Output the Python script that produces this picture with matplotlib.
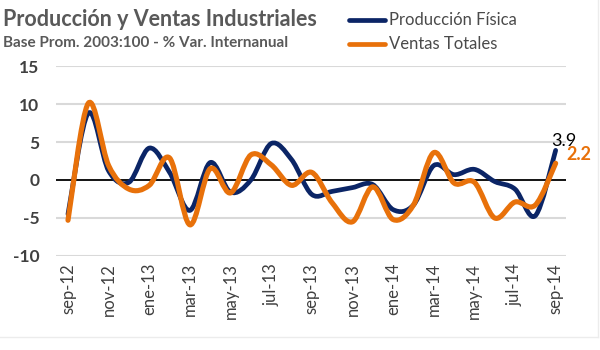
import numpy as np
import matplotlib
matplotlib.use("Agg")
import matplotlib.pyplot as plt
from matplotlib.path import Path
from matplotlib.patches import PathPatch
from matplotlib.lines import Line2D

plt.rcParams['font.family'] = ['Lato', 'DejaVu Sans']

# monthly, sep-12 .. sep-14
months = ["sep-12", "oct-12", "nov-12", "dic-12", "ene-13", "feb-13", "mar-13",
          "abr-13", "may-13", "jun-13", "jul-13", "ago-13", "sep-13", "oct-13",
          "nov-13", "dic-13", "ene-14", "feb-14", "mar-14", "abr-14", "may-14",
          "jun-14", "jul-14", "ago-14", "sep-14"]
produccion = [-4.5, 8.8, 1.2, -0.3, 4.2, 1.0, -4.0, 2.3, -1.6, 0.0, 4.8, 2.7, -1.9,
              -1.5, -1.0, -0.6, -3.9, -3.3, 1.9, 0.7, 1.4, -0.2, -1.2, -4.7, 3.9]
ventas = [-5.3, 10.1, 1.9, -1.2, -0.7, 2.9, -5.9, 1.5, -1.7, 3.3, 2.0, -0.7, 1.0,
          -3.0, -5.5, -0.9, -5.2, -3.3, 3.6, -0.4, -0.3, -5.0, -2.9, -3.3, 2.2]
y_ticks = [-10, -5, 0, 5, 10, 15]

NAVY = "#0b2566"
ORANGE = "#e8710a"
GRAY = "#595959"


def smooth_path(xs, ys):
    # excel-style smoothed line: cubic bezier segments through every point
    pts = np.column_stack([xs, ys]).astype(float)
    ext = np.vstack([pts[0], pts, pts[-1]])
    verts = [pts[0]]
    codes = [Path.MOVETO]
    for i in range(1, len(ext) - 2):
        p0, p1, p2, p3 = ext[i - 1], ext[i], ext[i + 1], ext[i + 2]
        c1 = p1 + (p2 - p0) / 6.0
        c2 = p2 - (p3 - p1) / 6.0
        verts += [c1, c2, p2]
        codes += [Path.CURVE4] * 3
    return Path(verts, codes)


fig = plt.figure(figsize=(6, 3.5), dpi=100)
ax = fig.add_axes([0.093, 0.2686, 0.85, 0.5428])

x = np.arange(len(months))
for val in y_ticks:
    if val == 0:
        continue
    ax.axhline(val, color="#d9d9d9", lw=1.5, zorder=1)
ax.axhline(0, color="black", lw=1.3, zorder=2)

for series, color, lw, z in [(produccion, NAVY, 3.4, 3), (ventas, ORANGE, 3.7, 4)]:
    patch = PathPatch(smooth_path(x, series), facecolor="none", edgecolor=color,
                      lw=lw, capstyle="round", joinstyle="round", zorder=z)
    ax.add_patch(patch)

ax.set_xlim(-0.6, 24.5)
ax.set_ylim(-10, 15)
ax.set_yticks(y_ticks)
ax.set_yticklabels([str(v) for v in y_ticks], fontsize=12.5, fontweight="bold", color="#404040")
ax.set_xticks(x[::2])
ax.set_xticklabels(months[::2], rotation=90, fontsize=12, color="#404040")
ax.tick_params(axis="y", length=0, pad=12)
ax.tick_params(axis="x", length=0, pad=5)
for s in ax.spines.values():
    s.set_visible(False)

# end labels
ax.annotate(f"{produccion[-1]:.1f}", (x[-1], produccion[-1]), xytext=(-3, 7),
            textcoords="offset points", fontsize=13, color="black", va="center", ha="left")
ax.annotate(f"{ventas[-1]:.1f}", (x[-1], ventas[-1]), xytext=(8, 6),
            textcoords="offset points", fontsize=13, fontweight="bold", color=ORANGE,
            va="center", ha="left")

# titles
fig.text(0.005, 0.945, "Producción y Ventas Industriales", fontsize=15.5, fontweight="bold",
         color=GRAY, va="center")
fig.text(0.005, 0.877, "Base Prom. 2003:100 - % Var. Internanual", fontsize=11,
         fontweight="bold", color=GRAY, va="center")

# legend
for yy, col, lab in [(0.943, NAVY, "Producción Física"), (0.874, ORANGE, "Ventas Totales")]:
    fig.add_artist(Line2D([0.582, 0.641], [yy, yy], color=col, lw=3.4,
                          solid_capstyle="round", transform=fig.transFigure))
    fig.text(0.648, yy, lab, fontsize=12, color="#4a4a4a", va="center")

# faint chart border
fig.add_artist(Line2D([0, 0.997], [0.037, 0.037], color="#ececec", lw=1, transform=fig.transFigure))
fig.add_artist(Line2D([0.997, 0.997], [0.037, 1], color="#ececec", lw=1, transform=fig.transFigure))

fig.savefig("out.png", dpi=100)
